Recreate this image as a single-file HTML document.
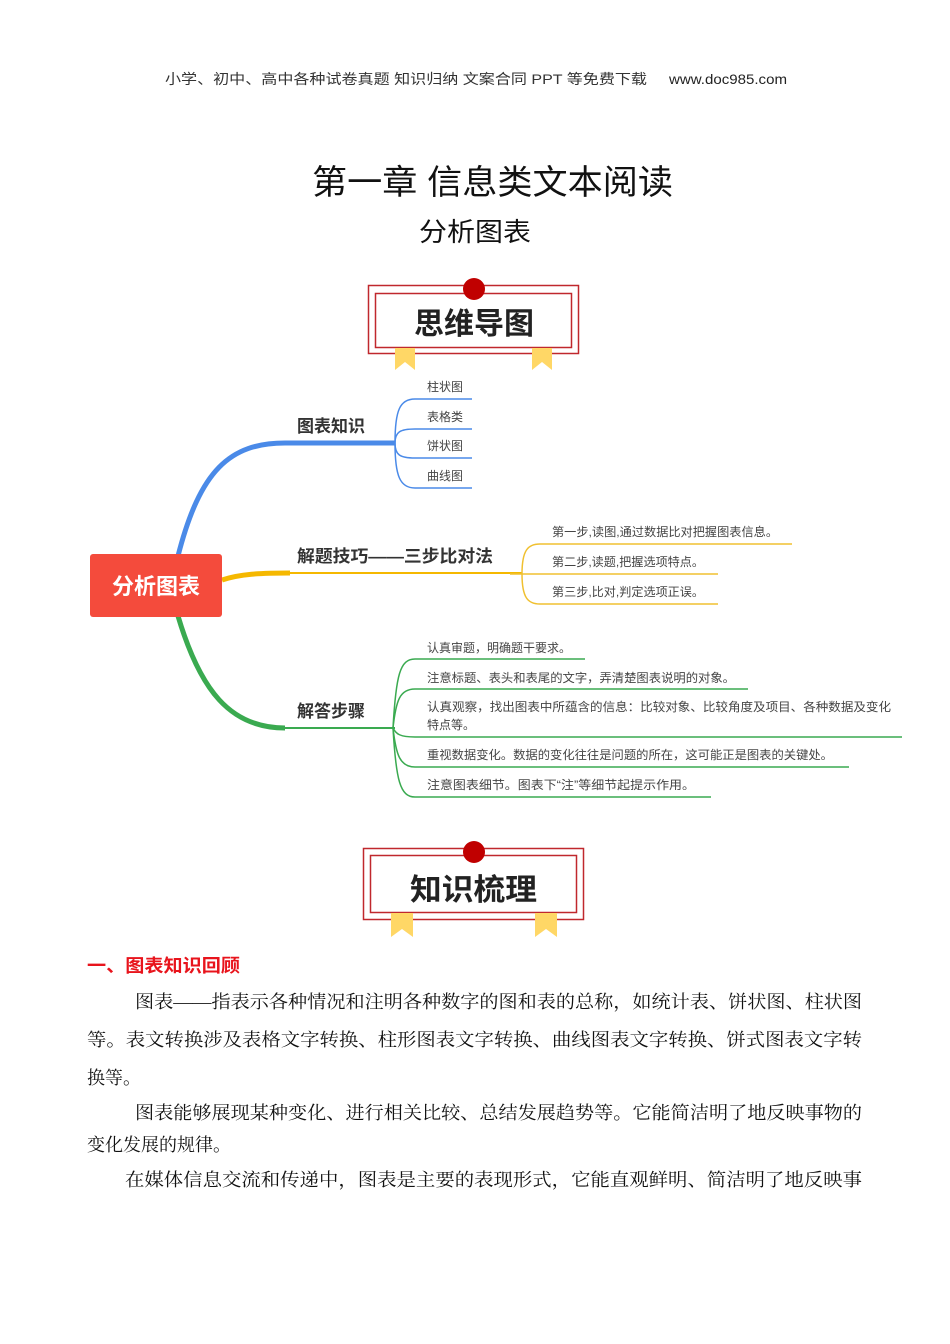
<!DOCTYPE html>
<html><head><meta charset="utf-8"><style>
html,body{margin:0;padding:0;background:#fff;}
svg{display:block;}
</style></head><body>
<svg width="950" height="1344" viewBox="0 0 950 1344" xmlns="http://www.w3.org/2000/svg">
<g font-family="Liberation Sans, Noto Sans CJK SC, sans-serif">
<text x="165" y="84" font-size="14" fill="#333" textLength="482" lengthAdjust="spacingAndGlyphs">小学、初中、高中各种试卷真题 知识归纳 文案合同 PPT 等免费下载</text>
<text x="669" y="84" font-size="14" fill="#222" textLength="118" lengthAdjust="spacingAndGlyphs">www.doc985.com</text>
<text x="312" y="194" font-size="34" fill="#111" textLength="361" lengthAdjust="spacingAndGlyphs">第一章 信息类文本阅读</text>
<text x="419" y="241" font-size="26" fill="#111" textLength="112" lengthAdjust="spacingAndGlyphs">分析图表</text>

<!-- banner 1 -->
<rect x="368.5" y="285.5" width="210" height="68" fill="#fff" stroke="#c0282d" stroke-width="1.5"/>
<rect x="375.5" y="293.5" width="196" height="54" fill="#fff" stroke="#c0282d" stroke-width="1.5"/>
<polygon points="395,348 415,348 415,370 405,362 395,370" fill="#ffd766"/>
<polygon points="532,348 552,348 552,370 542,362 532,370" fill="#ffd766"/>
<circle cx="474" cy="289" r="11" fill="#c00000"/>
<text x="414" y="334" font-size="30" font-weight="bold" fill="#222" textLength="120" lengthAdjust="spacingAndGlyphs">思维导图</text>

<!-- mind map -->
<path d="M178,556 C200,470 230,443 285,443 L395,443" fill="none" stroke="#4a8ae8" stroke-width="5"/>
<path d="M285,443 L395,443" stroke="#4a8ae8" stroke-width="2"/>
<g fill="none" stroke="#4a8ae8" stroke-width="1.5">
<path d="M395,443 C395,410 400,399 415,399 L472,399"/>
<path d="M395,443 C395,432 400,429 415,429 L472,429"/>
<path d="M395,443 C395,455 400,458 415,458 L472,458"/>
<path d="M395,443 C395,476 400,488 415,488 L472,488"/>
</g>
<g font-size="12" fill="#444">
<text x="427" y="391">柱状图</text><text x="427" y="421">表格类</text><text x="427" y="450">饼状图</text><text x="427" y="480">曲线图</text>
</g>
<text x="297" y="432" font-size="17" font-weight="bold" fill="#333">图表知识</text>

<path d="M222,580 C240,574 260,573 290,573" fill="none" stroke="#f5b800" stroke-width="5"/>
<path d="M285,573 L522,573" stroke="#f5b800" stroke-width="2"/>
<g fill="none" stroke="#f0c030" stroke-width="1.5">
<path d="M522,574 C522,550 528,544 540,544 L792,544"/>
<path d="M510,574 L718,574"/>
<path d="M522,574 C522,598 528,604 540,604 L718,604"/>
</g>
<g font-size="12" fill="#444">
<text x="552" y="536" textLength="226" lengthAdjust="spacingAndGlyphs">第一步,读图,通过数据比对把握图表信息。</text>
<text x="552" y="566" textLength="152" lengthAdjust="spacingAndGlyphs">第二步,读题,把握选项特点。</text>
<text x="552" y="596" textLength="152" lengthAdjust="spacingAndGlyphs">第三步,比对,判定选项正误。</text>
</g>
<text x="297" y="562" font-size="17" font-weight="bold" fill="#333" textLength="196" lengthAdjust="spacingAndGlyphs">解题技巧——三步比对法</text>

<path d="M178,616 C200,690 230,728 285,728" fill="none" stroke="#3aaa50" stroke-width="5"/>
<path d="M285,728 L395,728" stroke="#3aaa50" stroke-width="2"/>
<g fill="none" stroke="#3aaa50" stroke-width="1.5">
<path d="M393,728 C396,675 400,659 415,659 L585,659"/>
<path d="M393,728 C396,700 400,689 415,689 L748,689"/>
<path d="M393,728 C396,734 400,737 415,737 L902,737"/>
<path d="M393,728 C396,755 400,767 415,767 L849,767"/>
<path d="M393,728 C396,780 400,797 415,797 L711,797"/>
</g>
<g font-size="12" fill="#444">
<text x="427" y="652">认真审题，明确题干要求。</text>
<text x="427" y="682" textLength="308" lengthAdjust="spacingAndGlyphs">注意标题、表头和表尾的文字，弄清楚图表说明的对象。</text>
<text x="427" y="711" textLength="464" lengthAdjust="spacingAndGlyphs">认真观察，找出图表中所蕴含的信息：比较对象、比较角度及项目、各种数据及变化</text>
<text x="427" y="729">特点等。</text>
<text x="427" y="759" textLength="406" lengthAdjust="spacingAndGlyphs">重视数据变化。数据的变化往往是问题的所在，这可能正是图表的关键处。</text>
<text x="427" y="789" textLength="268" lengthAdjust="spacingAndGlyphs">注意图表细节。图表下“注”等细节起提示作用。</text>
</g>
<text x="297" y="717" font-size="17" font-weight="bold" fill="#333">解答步骤</text>

<rect x="90" y="554" width="132" height="63" rx="3" fill="#f44b3c"/>
<text x="156" y="594" font-size="22" font-weight="bold" fill="#fff" text-anchor="middle">分析图表</text>

<!-- banner 2 -->
<rect x="363.5" y="848.5" width="220" height="71" fill="#fff" stroke="#c0282d" stroke-width="1.5"/>
<rect x="370.5" y="855.5" width="206" height="57" fill="#fff" stroke="#c0282d" stroke-width="1.5"/>
<polygon points="391,913 413,913 413,937 402,929 391,937" fill="#ffd766"/>
<polygon points="535,913 557,913 557,937 546,929 535,937" fill="#ffd766"/>
<circle cx="474" cy="852" r="11" fill="#c00000"/>
<text x="410" y="900" font-size="30" font-weight="bold" fill="#222" textLength="127" lengthAdjust="spacingAndGlyphs">知识梳理</text>
</g>

<g font-family="Liberation Serif, Noto Serif CJK SC, serif" font-size="18" fill="#111">
<text x="87" y="972" font-family="Liberation Sans, Noto Sans CJK SC, sans-serif" font-weight="bold" fill="#e8141c" textLength="153" lengthAdjust="spacingAndGlyphs">一、图表知识回顾</text>
<text x="135" y="1008" textLength="727" lengthAdjust="spacingAndGlyphs">图表——指表示各种情况和注明各种数字的图和表的总称，如统计表、饼状图、柱状图</text>
<text x="87" y="1046" textLength="775" lengthAdjust="spacingAndGlyphs">等。表文转换涉及表格文字转换、柱形图表文字转换、曲线图表文字转换、饼式图表文字转</text>
<text x="87" y="1084">换等。</text>
<text x="135" y="1119" textLength="727" lengthAdjust="spacingAndGlyphs">图表能够展现某种变化、进行相关比较、总结发展趋势等。它能简洁明了地反映事物的</text>
<text x="87" y="1151">变化发展的规律。</text>
<text x="125" y="1186" textLength="737" lengthAdjust="spacingAndGlyphs">在媒体信息交流和传递中，图表是主要的表现形式，它能直观鲜明、简洁明了地反映事</text>
</g>
</svg>
</body></html>
